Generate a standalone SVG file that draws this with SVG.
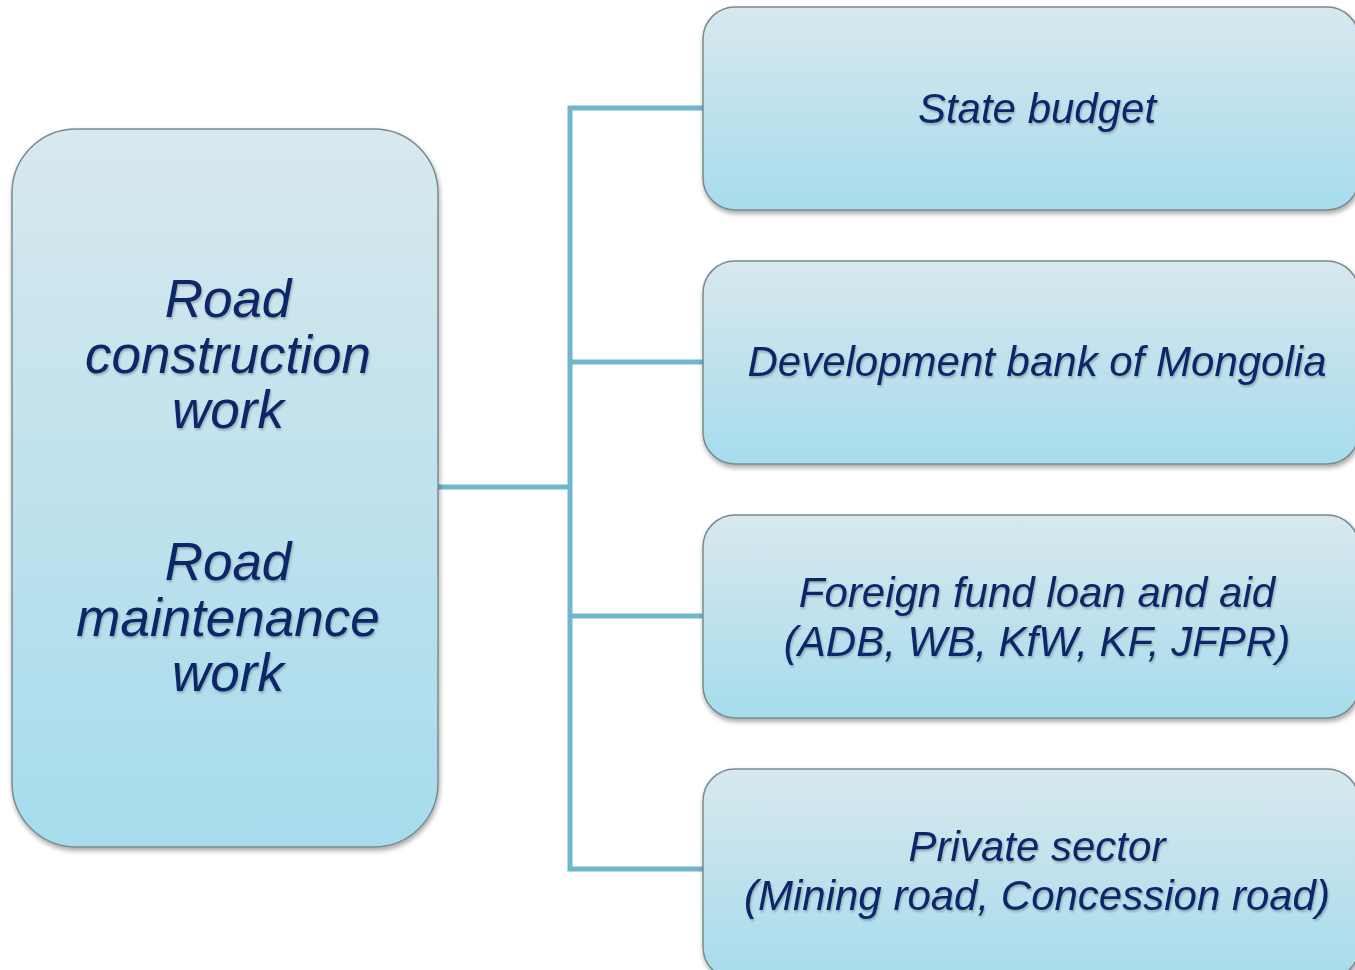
<svg xmlns="http://www.w3.org/2000/svg" width="1355" height="970" viewBox="0 0 1355 970">
<defs>
<linearGradient id="g" x1="0" y1="0" x2="0" y2="1">
<stop offset="0" stop-color="#d8e8ee"/>
<stop offset="1" stop-color="#a6dcec"/>
</linearGradient>
<filter id="sh" x="-5%" y="-5%" width="110%" height="115%">
<feGaussianBlur in="SourceAlpha" stdDeviation="2.5"/>
<feOffset dx="1" dy="3" result="b"/>
<feComponentTransfer><feFuncA type="linear" slope="0.35"/></feComponentTransfer>
<feMerge><feMergeNode/><feMergeNode in="SourceGraphic"/></feMerge>
</filter>
<filter id="ts" x="-5%" y="-20%" width="110%" height="140%">
<feGaussianBlur in="SourceAlpha" stdDeviation="1.2"/>
<feOffset dx="1" dy="2"/>
<feComponentTransfer><feFuncA type="linear" slope="0.25"/></feComponentTransfer>
<feMerge><feMergeNode/><feMergeNode in="SourceGraphic"/></feMerge>
</filter>
</defs>
<style>
.box{fill:url(#g);stroke:#7a8a90;stroke-width:1.5;filter:url(#sh)}
.t{font-family:"Liberation Sans",Arial,sans-serif;font-style:italic;fill:#0c2768;text-anchor:middle;filter:url(#ts)}
.big{font-size:53px}
.sm{font-size:42px}
.c{stroke:#70b6cd;stroke-width:5;fill:none}
</style>
<rect width="1355" height="970" fill="#ffffff"/>
<g id="connectors">
<path class="c" d="M438 487 H570"/>
<path class="c" d="M703 108 H570 V869 H703"/>
<path class="c" d="M570 362 H703"/>
<path class="c" d="M570 616 H703"/>
</g>
<g id="left">
<rect class="box" x="12" y="129" width="426" height="718" rx="64" ry="64"/>
<text class="t big" x="228" y="317">Road</text>
<text class="t big" x="228" y="373">construction</text>
<text class="t big" x="228" y="428">work</text>
<text class="t big" x="228" y="580">Road</text>
<text class="t big" x="228" y="636">maintenance</text>
<text class="t big" x="228" y="691">work</text>
</g>
<g id="state">
<rect class="box" x="703" y="7" width="656" height="203" rx="32" ry="32"/>
<text class="t sm" x="1037" y="123">State budget</text>
</g>
<g id="devbank">
<rect class="box" x="703" y="261" width="656" height="203" rx="32" ry="32"/>
<text class="t sm" x="1037" y="376">Development bank of Mongolia</text>
</g>
<g id="foreign">
<rect class="box" x="703" y="515" width="656" height="203" rx="32" ry="32"/>
<text class="t sm" x="1037" y="607">Foreign fund loan and aid</text>
<text class="t sm" x="1037" y="656">(ADB, WB, KfW, KF, JFPR)</text>
</g>
<g id="private">
<rect class="box" x="703" y="769" width="656" height="210" rx="32" ry="32"/>
<text class="t sm" x="1037" y="861">Private sector</text>
<text class="t sm" x="1037" y="910">(Mining road, Concession road)</text>
</g>
</svg>
